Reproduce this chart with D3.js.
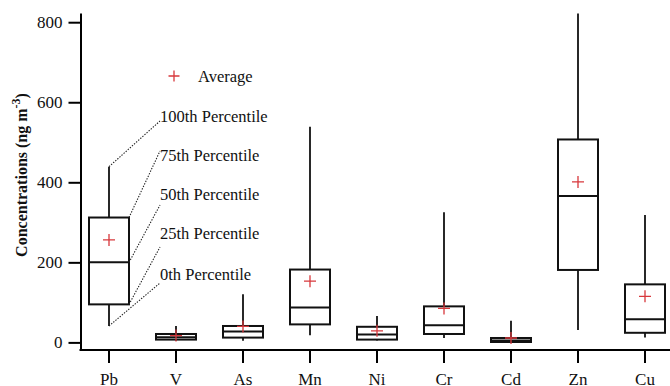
<!DOCTYPE html>
<html>
<head>
<meta charset="utf-8">
<script src="https://cdn.jsdelivr.net/npm/d3@7"></script>
<style>
  body { margin: 0; background: #fff; }
  svg { display: block; font-family: "Liberation Serif", "Times New Roman", serif; }
</style>
</head>
<body>
<svg id="svg" width="670" height="386"></svg>
<script>
const categories = ['Pb', 'V', 'As', 'Mn', 'Ni', 'Cr', 'Cd', 'Zn', 'Cu'];
const p0   = [41, 4, 4, 18, 5, 11, 0, 31, 12];
const p25  = [95, 7, 12, 45, 7, 21, 1, 181, 24];
const p50  = [200, 13, 27, 87, 20, 43, 5, 366, 58];
const p75  = [312, 21, 41, 182, 39, 90, 11, 507, 145];
const p100 = [439, 41, 120, 539, 66, 325, 54, 822, 318];
const avg  = [256, 17, 40, 153, 29, 85, 11, 401, 115];
const yTicks = [0, 200, 400, 600, 800];
const legendLabels = ['100th Percentile', '75th Percentile', '50th Percentile', '25th Percentile', '0th Percentile'];

const svg = d3.select('#svg');
const boxW = 40;
const red = '#d8383c';

const x = d3.scaleBand()
  .domain(categories)
  .range([75.5, 678.5]);
const xc = d => x(d) + x.bandwidth() / 2;

const y = d3.scaleLinear()
  .domain([-19, 823])
  .range([350, 13]);

// y axis
const yAxis = d3.axisLeft(y).tickValues(yTicks).tickSize(12).tickSizeOuter(0).tickPadding(6);
const gy = svg.append('g').attr('transform', 'translate(80.5,0)').call(yAxis);
gy.select('.domain').attr('stroke-width', 2);
gy.selectAll('.tick line').attr('stroke-width', 2);
gy.selectAll('.tick text').attr('font-size', 17).attr('font-family', '"Liberation Serif", serif').attr('fill', '#111');

// x axis
const xAxis = d3.axisBottom(x).tickSize(13).tickSizeOuter(0).tickPadding(10);
const gx = svg.append('g').attr('transform', 'translate(0,350)').call(xAxis);
gx.select('.domain').remove();
gx.append('line').attr('x1', 79.5).attr('x2', 670).attr('stroke', '#000').attr('stroke-width', 2);
gx.selectAll('.tick line').attr('stroke-width', 2);
gx.selectAll('.tick text').attr('font-size', 17).attr('font-family', '"Liberation Serif", serif').attr('fill', '#111');

// y title
const title = svg.append('text')
  .attr('transform', 'translate(27,175) rotate(-90)')
  .attr('text-anchor', 'middle')
  .attr('font-size', 16)
  .attr('font-weight', 'bold')
  .attr('fill', '#111');
title.append('tspan').text('Concentrations (ng m');
title.append('tspan').attr('font-size', 12).attr('dy', -7).text('-3');
title.append('tspan').attr('dy', 7).text(')');

// boxes
const g = svg.append('g').selectAll('g').data(categories).enter().append('g');

g.append('line')
  .attr('x1', d => xc(d)).attr('x2', d => xc(d))
  .attr('y1', (d, i) => y(p0[i])).attr('y2', (d, i) => y(p100[i]))
  .attr('stroke', '#111').attr('stroke-width', 1.8);

g.append('rect')
  .attr('x', d => xc(d) - boxW / 2)
  .attr('width', boxW)
  .attr('y', (d, i) => y(p75[i]))
  .attr('height', (d, i) => y(p25[i]) - y(p75[i]))
  .attr('fill', '#fff').attr('stroke', '#111').attr('stroke-width', 2);

g.append('line')
  .attr('x1', d => xc(d) - boxW / 2).attr('x2', d => xc(d) + boxW / 2)
  .attr('y1', (d, i) => y(p50[i])).attr('y2', (d, i) => y(p50[i]))
  .attr('stroke', '#111').attr('stroke-width', 2);

const plus = (sel, cx, cy, s) => {
  sel.append('path')
    .attr('d', `M${cx - s},${cy}H${cx + s}M${cx},${cy - s}V${cy + s}`)
    .attr('stroke', red).attr('stroke-width', 1.3).attr('fill', 'none');
};
g.each(function (d, i) { plus(d3.select(this), xc(d), y(avg[i]), 6); });

// legend
const lg = svg.append('g');
plus(lg, 174, 76, 5.5);
lg.append('text').attr('x', 198).attr('y', 76).attr('dy', '0.35em')
  .attr('font-size', 16.5).attr('fill', '#111').text('Average');

const labelY = [116, 155, 194, 233.5, 274];
const endY = [121, 151, 205, 247, 283];
const startPts = [
  [xc('Pb'), y(p100[0])],
  [xc('Pb') + boxW / 2, y(p75[0])],
  [xc('Pb') + boxW / 2, y(p50[0])],
  [xc('Pb') + boxW / 2, y(p25[0])],
  [xc('Pb'), y(p0[0])]
];
legendLabels.forEach((t, i) => {
  lg.append('line')
    .attr('x1', startPts[i][0]).attr('y1', startPts[i][1])
    .attr('x2', 160).attr('y2', endY[i])
    .attr('stroke', '#222').attr('stroke-width', 1.1).attr('stroke-dasharray', '1.4,1.4');
  lg.append('text').attr('x', 160).attr('y', labelY[i]).attr('dy', '0.35em')
    .attr('font-size', 16.5).attr('fill', '#111').text(t);
});
</script>
</body>
</html>
